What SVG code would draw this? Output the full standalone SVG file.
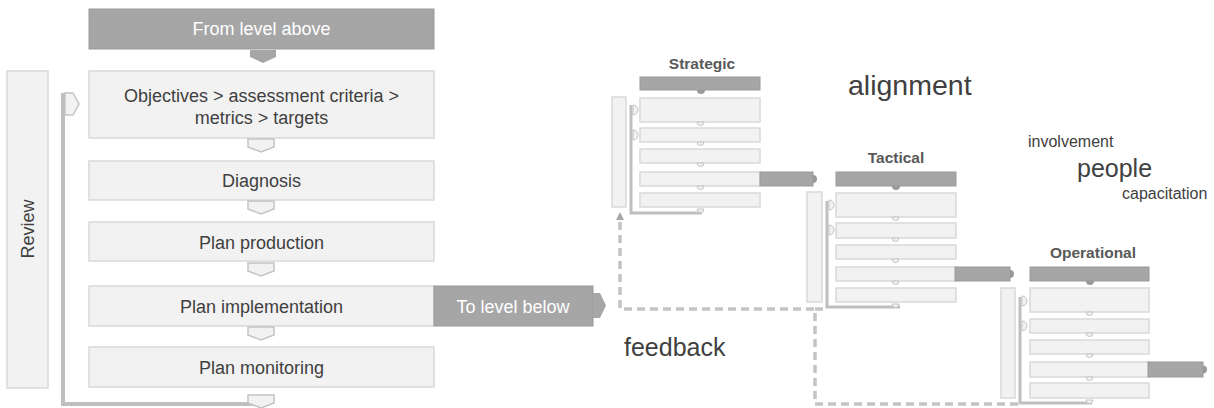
<svg xmlns="http://www.w3.org/2000/svg" width="1214" height="408" viewBox="0 0 1214 408">
<style>
.lt{fill:#f2f2f2;stroke:#d9d9d9;stroke-width:1.5}
.dk{fill:#a6a6a6;stroke:#999999;stroke-width:1}
.ch{fill:#f2f2f2;stroke:#c4c4c4;stroke-width:1.5}
.fb{fill:none;stroke:#bfbfbf;stroke-width:4}
.fbs{fill:none;stroke:#bfbfbf;stroke-width:3}
.tx{font-family:"Liberation Sans",Arial,sans-serif;font-size:18px;fill:#404040;text-anchor:middle}
.wt{font-family:"Liberation Sans",Arial,sans-serif;font-size:18px;fill:#ffffff;text-anchor:middle}
.mt{font-family:"Liberation Sans",Arial,sans-serif;font-size:15.5px;font-weight:bold;fill:#595959;text-anchor:middle}
.big{font-family:"Liberation Sans",Arial,sans-serif;fill:#404040}
.sc{fill:#f2f2f2;stroke:#c4c4c4;stroke-width:1}
.dash{fill:none;stroke:#c4c4c4;stroke-width:3.5;stroke-dasharray:8 5}
</style>
<defs>
<marker id="up" markerWidth="8" markerHeight="8" refX="4" refY="4" orient="auto" markerUnits="userSpaceOnUse">
<path d="M0,0 L8,4 L0,8 Z" fill="#a6a6a6"/>
</marker>
</defs>

<g id="connectors">
<path class="fb" d="M63 93 V404 H258"/>
<path class="dash" d="M1018 404 H815 V309 H620 V216" marker-end="url(#up)"/>
<path class="dash" d="M815 309 H827"/>
</g>

<g id="review">
<rect class="lt" x="7" y="71" width="41" height="317"/>
<text class="tx" transform="translate(34 229) rotate(-90)">Review</text>
</g>
<path class="ch" d="M65 93 H73 L79 104 L73 115 H65 Z"/>

<g id="from-level-above">
<rect class="dk" x="89" y="9" width="345" height="40"/>
<text class="wt" x="261.5" y="35">From level above</text>
<path fill="#a6a6a6" d="M250 50 H276 V57 L263 63 L250 57 Z"/>
</g>

<g id="objectives">
<rect class="lt" x="89" y="71" width="345" height="67"/>
<text class="tx" x="261.5" y="101.5">Objectives &gt; assessment criteria &gt;</text>
<text class="tx" x="261.5" y="124">metrics &gt; targets</text>
</g>
<path class="ch" d="M248 139 H274 V147 L261 152 L248 147 Z"/>

<g id="diagnosis">
<rect class="lt" x="89" y="161" width="345" height="39"/>
<text class="tx" x="261.5" y="187">Diagnosis</text>
</g>
<path class="ch" d="M248 201 H274 V209 L261 214 L248 209 Z"/>

<g id="plan-production">
<rect class="lt" x="89" y="222" width="345" height="39"/>
<text class="tx" x="261.5" y="248.5">Plan production</text>
</g>
<path class="ch" d="M248 263 H274 V271 L261 276 L248 271 Z"/>

<g id="plan-implementation">
<rect class="lt" x="89" y="286" width="345" height="40"/>
<text class="tx" x="261.5" y="313">Plan implementation</text>
</g>
<g id="to-level-below">
<rect class="dk" x="434" y="286" width="159" height="40"/>
<text class="wt" x="513" y="312.5">To level below</text>
<path fill="#a6a6a6" d="M593 293 H600 L606 305.5 L600 318 H593 Z"/>
</g>
<path class="ch" d="M248 327 H274 V335 L261 340 L248 335 Z"/>

<g id="plan-monitoring">
<rect class="lt" x="89" y="347" width="345" height="40"/>
<text class="tx" x="261.5" y="373.5">Plan monitoring</text>
</g>
<path class="ch" d="M248 395 H274 V403 L261 408 L248 403 Z"/>

<g id="strategic" transform="translate(640 77)">
<text class="mt" x="62" y="-8">Strategic</text>
<rect class="lt" x="-28" y="20" width="14" height="110" stroke-width="1"/>
<path class="fbs" d="M-9 28 V136 H62"/>
<path class="sc" d="M-7 28 A5 5 0 0 1 -7 38 Z"/>
<path class="sc" d="M-7 53 A5 5 0 0 1 -7 63 Z"/>
<rect class="dk" x="0" y="0" width="120" height="13"/>
<path fill="#999999" d="M57 13 A4 4 0 0 0 65 13 Z"/>
<rect class="lt" x="0" y="21" width="120" height="24" stroke-width="1"/>
<rect class="lt" x="0" y="51" width="120" height="14" stroke-width="1"/>
<rect class="lt" x="0" y="72" width="120" height="14" stroke-width="1"/>
<rect class="lt" x="0" y="95" width="120" height="14" stroke-width="1"/>
<rect class="dk" x="120" y="95" width="53" height="14"/>
<path fill="#999999" d="M173 98 A4 4 0 0 1 173 106 Z"/>
<rect class="lt" x="0" y="116" width="120" height="14" stroke-width="1"/>
<path class="sc" d="M57 45 A3.5 3.5 0 0 0 64 45 Z"/>
<path class="sc" d="M57 65 A3.5 3.5 0 0 0 64 65 Z"/>
<path class="sc" d="M57 86 A3.5 3.5 0 0 0 64 86 Z"/>
<path class="sc" d="M57 109 A3.5 3.5 0 0 0 64 109 Z"/>
<path class="sc" d="M57 132 H64 A3.5 3.5 0 0 1 57 132 Z"/>
</g>

<g id="tactical" transform="translate(836 172)">
<text class="mt" x="60" y="-9">Tactical</text>
<rect class="lt" x="-29" y="20" width="15" height="110" stroke-width="1"/>
<path class="fbs" d="M-9 29 V135 H64"/>
<path class="sc" d="M-7 28 A5 5 0 0 1 -7 38 Z"/>
<path class="sc" d="M-7 53 A5 5 0 0 1 -7 63 Z"/>
<rect class="dk" x="0" y="0" width="120" height="14"/>
<path fill="#999999" d="M56 14 A4 4 0 0 0 64 14 Z"/>
<rect class="lt" x="0" y="21" width="120" height="24" stroke-width="1"/>
<rect class="lt" x="0" y="51" width="120" height="15" stroke-width="1"/>
<rect class="lt" x="0" y="73" width="120" height="14" stroke-width="1"/>
<rect class="lt" x="0" y="95" width="120" height="14" stroke-width="1"/>
<rect class="dk" x="119" y="95" width="55" height="14"/>
<path fill="#999999" d="M174 98 A4 4 0 0 1 174 106 Z"/>
<rect class="lt" x="0" y="116" width="120" height="14" stroke-width="1"/>
<path class="sc" d="M56 45 A3.5 3.5 0 0 0 63 45 Z"/>
<path class="sc" d="M56 66 A3.5 3.5 0 0 0 63 66 Z"/>
<path class="sc" d="M56 87 A3.5 3.5 0 0 0 63 87 Z"/>
<path class="sc" d="M56 109 A3.5 3.5 0 0 0 63 109 Z"/>
<path class="sc" d="M56 132 H63 A3.5 3.5 0 0 1 56 132 Z"/>
</g>

<g id="operational" transform="translate(1030 267)">
<text class="mt" x="63" y="-9">Operational</text>
<rect class="lt" x="-29" y="21" width="14" height="110" stroke-width="1"/>
<path class="fbs" d="M-10 30 V136 H62"/>
<path class="sc" d="M-8 29 A5 5 0 0 1 -8 39 Z"/>
<path class="sc" d="M-8 54 A5 5 0 0 1 -8 64 Z"/>
<rect class="dk" x="0" y="0" width="119" height="14"/>
<path fill="#999999" d="M56 14 A4 4 0 0 0 64 14 Z"/>
<rect class="lt" x="0" y="21" width="119" height="24" stroke-width="1"/>
<rect class="lt" x="0" y="52" width="119" height="14" stroke-width="1"/>
<rect class="lt" x="0" y="73" width="119" height="14" stroke-width="1"/>
<rect class="lt" x="0" y="95" width="119" height="15" stroke-width="1"/>
<rect class="dk" x="118" y="95" width="55" height="15"/>
<path fill="#999999" d="M173 98.5 A4 4 0 0 1 173 106.5 Z"/>
<rect class="lt" x="0" y="116" width="119" height="15" stroke-width="1"/>
<path class="sc" d="M56 45 A3.5 3.5 0 0 0 63 45 Z"/>
<path class="sc" d="M56 66 A3.5 3.5 0 0 0 63 66 Z"/>
<path class="sc" d="M56 87 A3.5 3.5 0 0 0 63 87 Z"/>
<path class="sc" d="M56 110 A3.5 3.5 0 0 0 63 110 Z"/>
<path class="sc" d="M56 133 H63 A3.5 3.5 0 0 1 56 133 Z"/>
</g>

<g id="labels">
<text class="big" x="848" y="95" font-size="28.5">alignment</text>
<text class="big" x="1028" y="147" font-size="16">involvement</text>
<text class="big" x="1077" y="177" font-size="25">people</text>
<text class="big" x="1122" y="199" font-size="16">capacitation</text>
<text class="big" x="624" y="356" font-size="25">feedback</text>
</g>
</svg>
